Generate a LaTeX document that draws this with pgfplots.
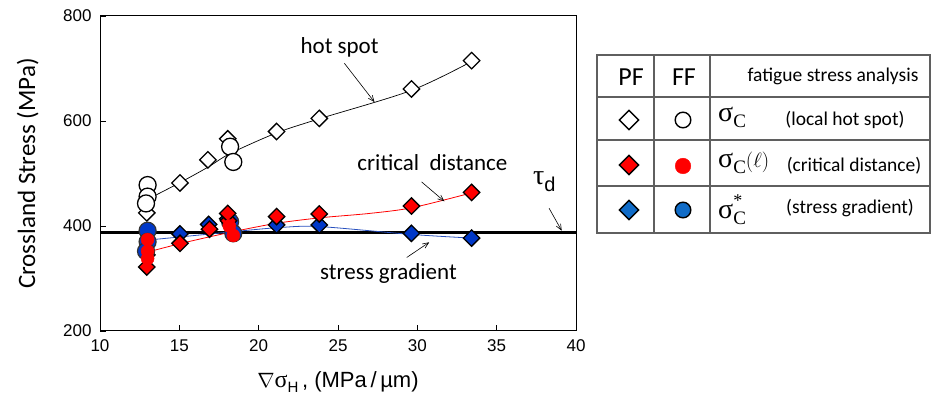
\documentclass[border=0pt]{standalone}
\usepackage{fontspec}
\setmainfont{Carlito}
\newfontfamily\arialf{Liberation Sans}
\newfontfamily\tnr{Liberation Serif}
\usepackage{pgfplots}
\pgfplotsset{compat=1.18}
\usetikzlibrary{arrows.meta}
\definecolor{pfred}{RGB}{255,0,0}
\definecolor{pfblue}{RGB}{0,56,200}
\definecolor{lgblue}{RGB}{16,108,200}
\definecolor{fitblue}{RGB}{40,80,190}
\definecolor{tabgray}{RGB}{95,95,95}
\newcommand{\fs}[1]{\fontsize{#1}{#1}\selectfont}

\pgfplotsset{
  pfopen/.style={only marks, mark=square*, mark size=5.8pt,
    mark options={rotate=45, fill=white, draw=black, line width=1.3pt}},
  ffopen/.style={only marks, mark=*, mark size=8.5pt,
    mark options={fill=white, draw=black, line width=1.3pt}},
  pfredd/.style={only marks, mark=square*, mark size=5.8pt,
    mark options={rotate=45, fill=pfred, draw=black, line width=1.3pt}},
  ffredc/.style={only marks, mark=*, mark size=6.5pt,
    mark options={fill=pfred, draw=pfred}},
  pfblued/.style={only marks, mark=square*, mark size=5.8pt,
    mark options={rotate=45, fill=pfblue, draw=black, line width=1.3pt}},
  ffbluec/.style={only marks, mark=*, mark size=8.5pt,
    mark options={fill=pfblue, draw=black!80, line width=1.2pt}},
}
\tikzset{
  note/.style={font=\fs{23}, inner sep=0pt},
  thinarrow/.style={-{Straight Barb[length=6pt,width=5pt]}, line width=0.6pt, black},
}

\begin{document}
\begin{tikzpicture}
\useasboundingbox (0,0) rectangle (939pt,401pt);

% main plot
\begin{axis}[
  at={(100pt,70pt)}, anchor=south west,
  scale only axis, width=476pt, height=315pt,
  xmin=10, xmax=40, ymin=200, ymax=800,
  xtick={10,15,...,40}, ytick={200,400,600,800},
  tick pos=left, tick align=inside, major tick length=6pt,
  axis line style={line width=1pt, black},
  tick style={line width=0.8pt, black},
  /pgf/number format/assume math mode=true,
  tick label style={font=\arialf\fs{17}},
  xticklabel style={yshift=-5pt},
  yticklabel style={xshift=-5pt},
  xlabel={\arialf\fs{22}$\nabla${\tnr\fs{24}σ}\raisebox{-5pt}{\fs{15}H}\,, (MPa\,/\,µm)},
  xlabel style={at={(axis description cs:0.5,-0.162)}, anchor=center},
  ylabel={\fs{25}Crossland Stress (MPa)},
  ylabel style={at={(axis description cs:-0.152,0.5)}, anchor=center},
  clip=false,
]
% threshold tau_d
\addplot[black, line width=3pt] coordinates {(10,387) (40,387)};

% fitted trends
\addplot[black, line width=0.7pt, smooth, tension=0.5] coordinates {
  (12.95,450) (15,482) (16.8,512) (18.2,538) (21.1,577) (23.8,604) (29.6,658) (33.4,713)};
\addplot[pfred, line width=0.8pt, smooth, tension=0.5] coordinates {
  (12.95,350) (15,366) (17,380) (19,393) (21.3,406) (24,416) (27,424) (29.7,435) (33.4,463)};
\addplot[fitblue, line width=0.8pt, smooth, tension=0.5] coordinates {
  (12.95,373) (15,379) (17,385) (19,391) (21.3,397) (23.8,399) (29.6,384) (33.4,377)};

% local hot spot
\addplot[pfopen] coordinates {
  (12.95,425) (15.04,482) (16.8,526) (18.05,566) (21.13,580) (23.82,605) (29.63,661) (33.42,715)};
\addplot[ffopen] coordinates {
  (13,478) (13,456) (12.9,443) (18.2,551) (18.4,522)};

% stress gradient
\addplot[pfblued] coordinates {
  (12.95,345) (15.04,385) (16.85,403) (18.05,414) (21.13,402) (23.82,402) (29.63,386) (33.42,377)};
\addplot[ffbluec] coordinates {
  (13,391) (13,370) (12.9,352) (18.2,408) (18.4,386)};

% critical distance
\addplot[pfredd] coordinates {
  (12.95,322) (15.04,367) (16.9,394) (18.1,410) (18.05,424) (21.13,418) (23.82,423) (29.63,438) (33.42,464)};
\addplot[ffredc] coordinates {
  (13,374) (13,352) (13,338) (18.15,400) (18.4,382)};

% annotations
\node[note] at (axis cs:25.1,741) {hot spot};
\draw[thinarrow] (axis cs:25.4,710) -- (axis cs:27.3,636);
\node[note] at (axis cs:30.95,520) {critical\ \ distance};
\draw[thinarrow] (axis cs:30.27,484) -- (axis cs:31.7,447);
\node[note] at (axis cs:28.18,310) {stress gradient};
\draw[thinarrow] (axis cs:29.33,340) -- (axis cs:30.75,369);
\node[inner sep=0pt] at (axis cs:38.0,484) {{\tnr\fs{28}τ}\raisebox{-7pt}{\arialf\fs{20}d}};
\draw[thinarrow] (axis cs:38.3,434) -- (axis cs:39.1,391);
\end{axis}

% legend table
\begin{axis}[
  at={(596pt,168pt)}, anchor=south west,
  scale only axis, width=334pt, height=178pt,
  xmin=596, xmax=930, ymin=55, ymax=233, y dir=reverse,
  hide axis, clip=false,
]
\draw[tabgray, line width=1.2pt] (axis cs:597,55) rectangle (axis cs:930,233);
\draw[tabgray, line width=1.2pt] (axis cs:597,97) -- (axis cs:930,97);
\draw[tabgray, line width=1.2pt] (axis cs:597,140) -- (axis cs:930,140);
\draw[tabgray, line width=1.2pt] (axis cs:597,186) -- (axis cs:930,186);
\draw[tabgray, line width=1.2pt] (axis cs:654,55) -- (axis cs:654,233);
\draw[tabgray, line width=1.2pt] (axis cs:710,55) -- (axis cs:710,233);

\node[font=\fs{26}, inner sep=0pt] at (axis cs:631,77) {PF};
\node[font=\fs{26}, inner sep=0pt] at (axis cs:684,77) {FF};
\node[font=\fs{19.5}, inner sep=0pt] at (axis cs:833,76) {fatigue stress analysis};

\addplot[only marks, mark=square*, mark size=6.8pt,
  mark options={rotate=45, fill=white, draw=black, line width=1.4pt}] coordinates {(629,120)};
\addplot[only marks, mark=*, mark size=7.8pt,
  mark options={fill=white, draw=black, line width=1.4pt}] coordinates {(683,120)};
\addplot[only marks, mark=square*, mark size=6.8pt,
  mark options={rotate=45, fill=pfred, draw=black, line width=1.4pt}] coordinates {(629,165)};
\addplot[only marks, mark=*, mark size=7.8pt,
  mark options={fill=pfred, draw=pfred}] coordinates {(683,166)};
\addplot[only marks, mark=square*, mark size=6.8pt,
  mark options={rotate=45, fill=lgblue, draw=black, line width=1.4pt}] coordinates {(629,210)};
\addplot[only marks, mark=*, mark size=7.8pt,
  mark options={fill=lgblue, draw=black, line width=1.4pt}] coordinates {(683,210)};

\node[anchor=west, inner sep=0pt] at (axis cs:718,117)
  {{\tnr\fs{28}σ}\raisebox{-6pt}{\tnr\fs{19}C}};
\node[font=\fs{19.5}, inner sep=0pt] at (axis cs:845,120) {(local hot spot)};
\node[anchor=west, inner sep=0pt] at (axis cs:718,163)
  {{\tnr\fs{28}σ}\raisebox{-6pt}{\tnr\fs{19}C}{\fs{22}$(\ell)$}};
\node[font=\fs{19.5}, inner sep=0pt] at (axis cs:854,166) {(critical distance)};
\node[anchor=west, inner sep=0pt] at (axis cs:718,210)
  {{\tnr\fs{28}σ}\rlap{\raisebox{12pt}{\tnr\fs{18}*}}\raisebox{-6pt}{\tnr\fs{19}C}};
\node[font=\fs{19.5}, inner sep=0pt] at (axis cs:850,208) {(stress gradient)};
\end{axis}
\end{tikzpicture}
\end{document}
